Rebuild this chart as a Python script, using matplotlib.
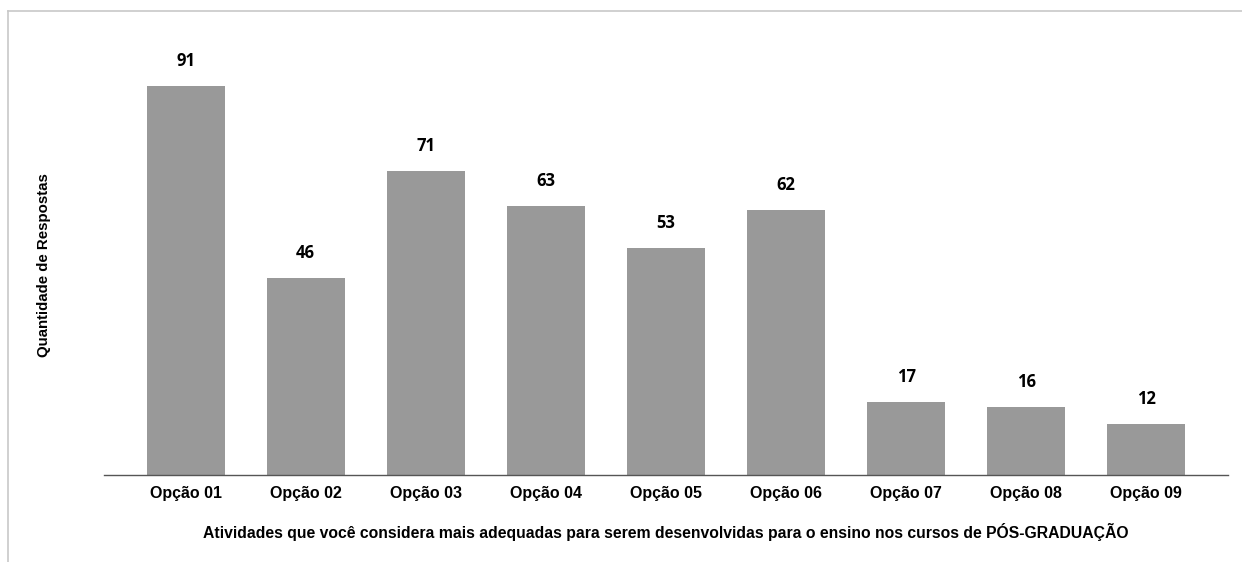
import matplotlib.pyplot as plt

categorias = ["Opção 01", "Opção 02", "Opção 03", "Opção 04", "Opção 05",
              "Opção 06", "Opção 07", "Opção 08", "Opção 09"]
respostas = [91, 46, 71, 63, 53, 62, 17, 16, 12]

fig = plt.figure(figsize=(12.42, 5.62), dpi=100)
ax = fig.add_axes([0.0837, 0.1548, 0.905, 0.7607])

x = range(len(categorias))
bars = ax.bar(x, respostas, width=0.65, color="#999999")

for b, v in zip(bars, respostas):
    ax.annotate(str(v), (b.get_x() + b.get_width() / 2, v), xytext=(0, 18),
                textcoords="offset points", ha="center", va="center",
                fontsize=12, fontweight="bold", family="Open Sans")

ax.set_xlim(-0.68, 8.68)
ax.set_ylim(0, 100)
ax.set_xticks(list(x))
ax.set_xticklabels(categorias, fontsize=11.5, fontweight="bold", family="Liberation Sans")
ax.tick_params(axis="x", length=0, pad=8)
ax.set_yticks([])
for s in ["top", "right", "left"]:
    ax.spines[s].set_visible(False)
ax.spines["bottom"].set_color("#555555")
ax.spines["bottom"].set_linewidth(1)

ax.set_xlabel("Atividades que você considera mais adequadas para serem desenvolvidas para o ensino nos cursos de PÓS-GRADUAÇÃO",
              fontsize=11.3, fontweight="bold", family="Liberation Sans", labelpad=16)
fig.text(0.0354, 0.528, "Quantidade de Respostas", rotation=90, ha="center", va="center",
         fontsize=10.8, fontweight="bold", family="Liberation Sans")

# moldura cinza clara (topo e esquerda)
fig.add_artist(plt.Line2D([8 / 1242, 1], [1 - 11 / 562, 1 - 11 / 562], color="#c8c8c8", lw=1.2))
fig.add_artist(plt.Line2D([8 / 1242, 8 / 1242], [0, 1 - 11 / 562], color="#c8c8c8", lw=1.2))

fig.savefig("out.png", dpi=100)
